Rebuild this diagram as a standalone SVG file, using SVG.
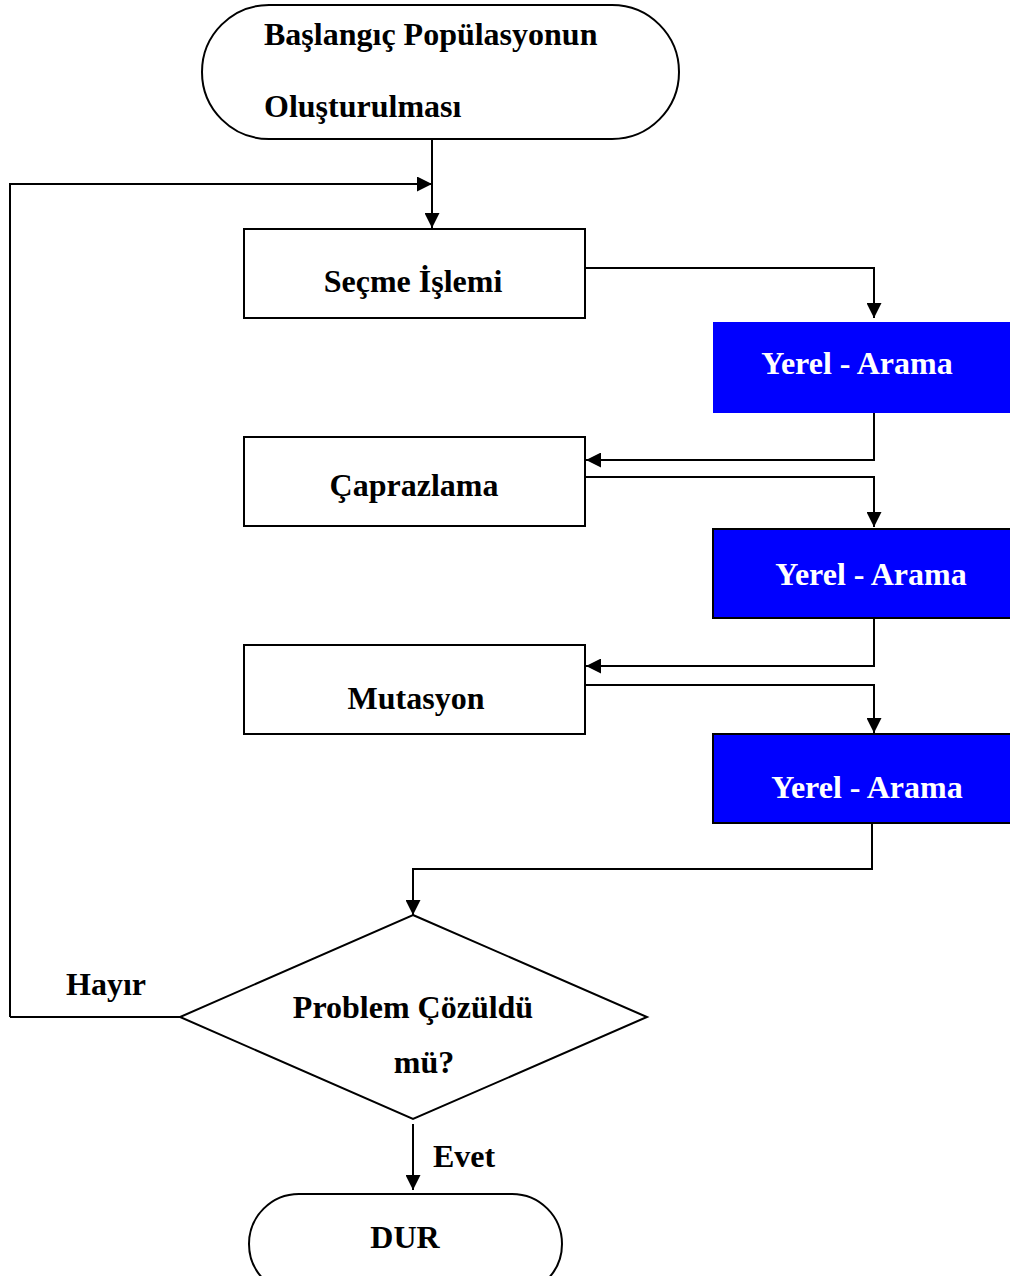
<svg xmlns="http://www.w3.org/2000/svg" width="1010" height="1276" viewBox="0 0 1010 1276">
<defs>
<marker id="ah" viewBox="0 0 10 10" refX="10" refY="5" markerWidth="15" markerHeight="15" markerUnits="userSpaceOnUse" orient="auto">
<path d="M0,0 L10,5 L0,10 z" fill="#000"/>
</marker>
<style>
.t{font-family:"Liberation Serif","Times New Roman",serif;font-weight:bold;font-size:32px;fill:#000}
.w{fill:#fff}
.box{fill:#fff;stroke:#000;stroke-width:2}
.blue{fill:#0000ff;stroke:#000;stroke-width:2}
.c{fill:none;stroke:#000;stroke-width:2}
</style>
</defs>
<rect width="1010" height="1276" fill="#fff"/>
<g id="connectors">
<path class="c" d="M432,139 V228" marker-end="url(#ah)"/>
<path class="c" d="M10,1017 V184 H432" marker-end="url(#ah)"/>
<path class="c" d="M585,268 H874 V318" marker-end="url(#ah)"/>
<path class="c" d="M874,413 V460 H586" marker-end="url(#ah)"/>
<path class="c" d="M585,477 H874 V527" marker-end="url(#ah)"/>
<path class="c" d="M874,618 V666 H586" marker-end="url(#ah)"/>
<path class="c" d="M585,685 H874 V733" marker-end="url(#ah)"/>
<path class="c" d="M872,823 V869 H413 V915" marker-end="url(#ah)"/>
<path class="c" d="M10,1017 H180"/>
<path class="c" d="M413,1124 V1190" marker-end="url(#ah)"/>
</g>
<g id="start">
<rect class="box" x="202" y="5" width="477" height="134" rx="67" ry="67"/>
<text class="t" x="264" y="45">Başlangıç Popülasyonun</text>
<text class="t" x="264" y="117">Oluşturulması</text>
</g>
<g id="secme">
<rect class="box" x="244" y="229" width="341" height="89"/>
<text class="t" x="413" y="292" text-anchor="middle">Seçme İşlemi</text>
</g>
<g id="yerel1">
<rect x="713" y="322" width="300" height="91" fill="#0000ff"/>
<text class="t w" x="857" y="374" text-anchor="middle">Yerel - Arama</text>
</g>
<g id="caprazlama">
<rect class="box" x="244" y="437" width="341" height="89"/>
<text class="t" x="414" y="496" text-anchor="middle">Çaprazlama</text>
</g>
<g id="yerel2">
<rect class="blue" x="713" y="529" width="300" height="89"/>
<text class="t w" x="871" y="585" text-anchor="middle">Yerel - Arama</text>
</g>
<g id="mutasyon">
<rect class="box" x="244" y="645" width="341" height="89"/>
<text class="t" x="416" y="709" text-anchor="middle">Mutasyon</text>
</g>
<g id="yerel3">
<rect class="blue" x="713" y="734" width="300" height="89"/>
<text class="t w" x="867" y="798" text-anchor="middle">Yerel - Arama</text>
</g>
<g id="decision">
<path class="box" d="M413,915 L647,1017 L413,1119 L180,1017 Z"/>
<text class="t" x="413" y="1018" text-anchor="middle">Problem Çözüldü</text>
<text class="t" x="424" y="1073" text-anchor="middle">mü?</text>
</g>
<g id="labels">
<text class="t" x="66" y="995">Hayır</text>
<text class="t" x="433" y="1167">Evet</text>
</g>
<g id="dur">
<rect class="box" x="249" y="1194" width="313" height="100" rx="50" ry="50"/>
<text class="t" x="405" y="1248" text-anchor="middle">DUR</text>
</g>
</svg>
